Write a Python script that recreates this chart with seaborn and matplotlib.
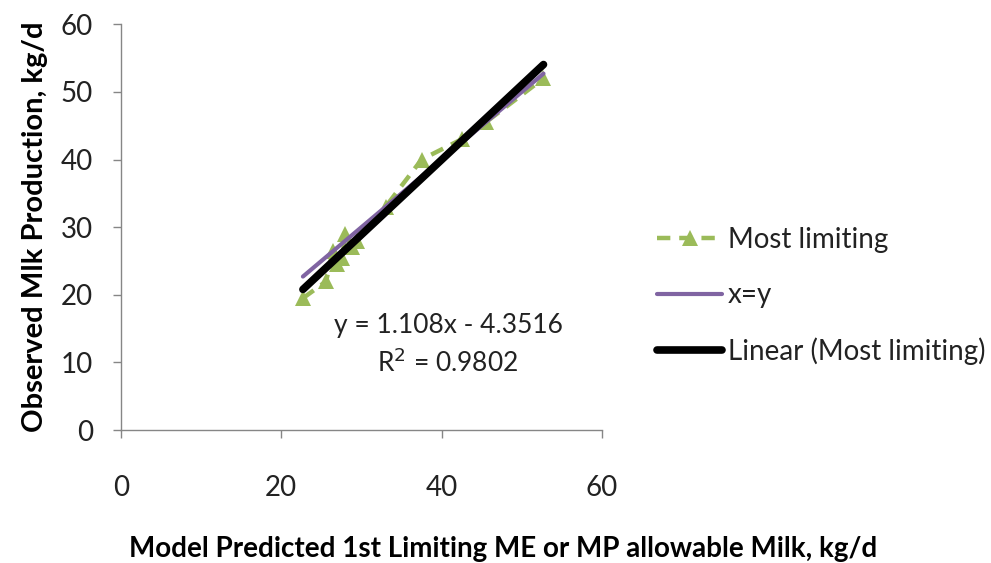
import numpy as np
import pandas as pd
import matplotlib
matplotlib.use("Agg")
import matplotlib.pyplot as plt
import seaborn as sns

# Data
predicted = [22.7, 25.6, 26.4, 27.0, 27.6, 28.0, 28.8, 29.5, 33.0, 37.5, 42.5, 45.5, 52.7]
observed = [19.5, 22.0, 26.5, 24.5, 25.5, 29.0, 27.0, 28.0, 33.0, 40.0, 43.0, 45.5, 52.0]
slope = 1.108
intercept = -4.3516
r_squared = 0.9802
x_ticks = [0, 20, 40, 60]
y_ticks = [0, 10, 20, 30, 40, 50, 60]

sns.set_theme(style="white")
plt.rcParams['font.family'] = ['Lato', 'DejaVu Sans']

fig = plt.figure(figsize=(9.91, 5.63), dpi=100)
ax = fig.add_axes([0.122, 0.236, 0.4855, 0.721])

df = pd.DataFrame({"x": predicted, "y": observed})
xr = np.array([min(predicted), max(predicted)])
df_xy = pd.DataFrame({"x": xr, "y": xr})
df_fit = pd.DataFrame({"x": xr, "y": slope * xr + intercept})

green = "#9BBB59"
purple = "#8064A2"

sns.lineplot(data=df, x="x", y="y", ax=ax, sort=False, color=green,
             linestyle=(0, (3, 2)), linewidth=3.2, marker="^", markersize=11,
             markeredgewidth=0, label="Most limiting", zorder=2)
sns.lineplot(data=df_xy, x="x", y="y", ax=ax, color=purple, linewidth=3.0,
             solid_capstyle="round", label="x=y", zorder=3)
sns.lineplot(data=df_fit, x="x", y="y", ax=ax, color="black", linewidth=5.5,
             solid_capstyle="round", label="Linear (Most limiting)", zorder=4)

ax.set_xlim(0, 60)
ax.set_ylim(0, 60)
ax.set_xticks(x_ticks)
ax.set_yticks(y_ticks)
ax.tick_params(axis="both", which="both", direction="out", length=6, width=1,
               color="#868686", labelsize=20, labelcolor="#222222")
ax.tick_params(axis="x", pad=26)
ax.tick_params(axis="y", pad=14)
ax.xaxis.set_ticks_position("bottom")
ax.yaxis.set_ticks_position("left")
for s in ["top", "right"]:
    ax.spines[s].set_visible(False)
for s in ["left", "bottom"]:
    ax.spines[s].set_color("#868686")
    ax.spines[s].set_linewidth(1)

ax.set_xlabel("Model Predicted 1st Limiting ME or MP allowable Milk, kg/d",
              fontsize=20, fontweight="bold", color="black")
ax.set_ylabel("Observed Mlk Production, kg/d", fontsize=21, fontweight="bold",
              color="black")
ax.xaxis.set_label_coords(0.794, -0.262)
ax.yaxis.set_label_coords(-0.152, 0.5)

ax.text(40.8, 15.5, f"y = {slope}x - {abs(intercept)}", ha="center", va="center",
        fontsize=19, color="#222222")
ax.text(40.8, 9.9, f"R$^2$ = {r_squared}", ha="center", va="center",
        fontsize=19, color="#222222")

leg = ax.legend(loc="upper left", bbox_to_anchor=(1.114, 0.50), frameon=False,
                fontsize=20, handlelength=2.35, handletextpad=0.2,
                labelspacing=1.05, borderaxespad=0, borderpad=0)
for t in leg.get_texts():
    t.set_color("#222222")

fig.savefig("out.png", dpi=100, facecolor="white")
